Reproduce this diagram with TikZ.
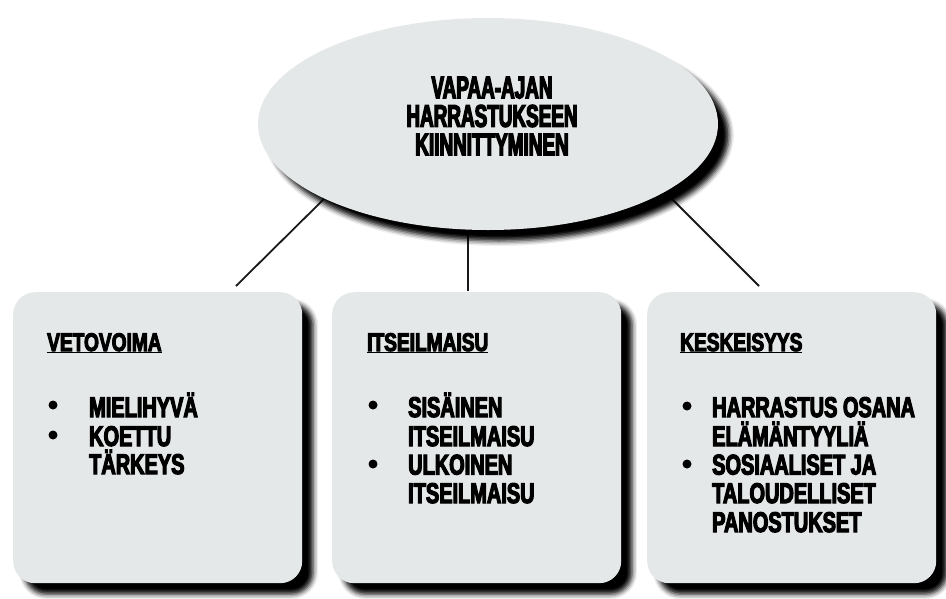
\documentclass[tikz,border=0pt]{standalone}
\usepackage{fontspec}
\setmainfont{Liberation Sans}
\newfontfamily\hfont{Liberation Sans}[UprightFont={* Bold},FakeStretch=0.70,FakeBold=4]
\newfontfamily\gfont{Liberation Sans}[UprightFont={* Bold},FakeStretch=0.75,FakeBold=4]
\newfontfamily\tfont{Liberation Sans}[UprightFont={* Bold},FakeStretch=0.60,FakeBold=4]
\usetikzlibrary{shadows.blur,shapes.geometric}
\definecolor{cardgray}{RGB}{229,232,233}
\begin{document}
\begin{tikzpicture}[x=1pt,y=-1pt,
  shade/.style={blur shadow={shadow xshift=11pt,shadow yshift=-11pt,shadow blur radius=5pt,shadow opacity=100}},
  card/.style={shade,fill=cardgray,draw=none,rounded corners=22pt,minimum width=289pt,minimum height=291pt,anchor=north west,inner sep=0},
  oval/.style={shade,ellipse,fill=cardgray,draw=none,minimum width=460pt,minimum height=212pt,inner sep=0},
  conn/.style={draw=black!90,line width=1.8pt},
  ttl/.style={font=\tfont\fontsize{31.5}{28.5}\selectfont,inner sep=0,align=center,anchor=center},
  hdr/.style={font=\gfont\fontsize{25.5}{29}\selectfont,inner sep=0,anchor=base west},
  txt/.style={font=\hfont\fontsize{28.5}{29}\selectfont,inner sep=0,anchor=base west},
  dot/.style={circle,fill=black,inner sep=0,minimum size=9pt}]
\useasboundingbox (0,0) rectangle (946,598);
% connector ends
\coordinate (l1) at (236,286);
\coordinate (l2) at (330,193);
\coordinate (m1) at (468,291);
\coordinate (m2) at (468,215);
\coordinate (r1) at (759,286);
\coordinate (r2) at (662,189);
\draw[conn] (l1) -- (l2);
\draw[conn] (m1) -- (m2);
\draw[conn] (r1) -- (r2);
% central ellipse
\node[oval] (ell) at (488,124) {};
\node[ttl] (title) at (492,116) {VAPAA-AJAN\\HARRASTUKSEEN\\KIINNITTYMINEN};
% boxes
\node[card] (box1) at (13,292) {};
\node[card] (box2) at (332,292) {};
\node[card] (box3) at (647,292) {};
% box 1
\node[hdr] (h1) at (47,351) {\underline{VETOVOIMA}};
\node[dot] (d11) at (53,405) {};
\node[txt] (a11) at (89,417) {MIELIHYVÄ};
\node[dot] (d12) at (53,435) {};
\node[txt] (a12) at (89,446) {KOETTU};
\node[txt] (a13) at (89,474) {TÄRKEYS};
% box 2
\node[hdr] (h2) at (367,351) {\underline{ITSEILMAISU}};
\node[dot] (d21) at (373,405) {};
\node[txt] (a21) at (408,417) {SISÄINEN};
\node[txt] (a22) at (408,446) {ITSEILMAISU};
\node[dot] (d22) at (373,464) {};
\node[txt] (a23) at (408,474.5) {ULKOINEN};
\node[txt] (a24) at (408,503) {ITSEILMAISU};
% box 3
\node[hdr] (h3) at (680,351) {\underline{KESKEISYYS}};
\node[dot] (d31) at (687,406) {};
\node[txt] (a31) at (712,417) {HARRASTUS OSANA};
\node[txt] (a32) at (712,446) {ELÄMÄNTYYLIÄ};
\node[dot] (d32) at (687,464) {};
\node[txt] (a33) at (712,474.5) {SOSIAALISET JA};
\node[txt] (a34) at (712,503) {TALOUDELLISET};
\node[txt] (a35) at (712,532) {PANOSTUKSET};
\end{tikzpicture}
\end{document}
